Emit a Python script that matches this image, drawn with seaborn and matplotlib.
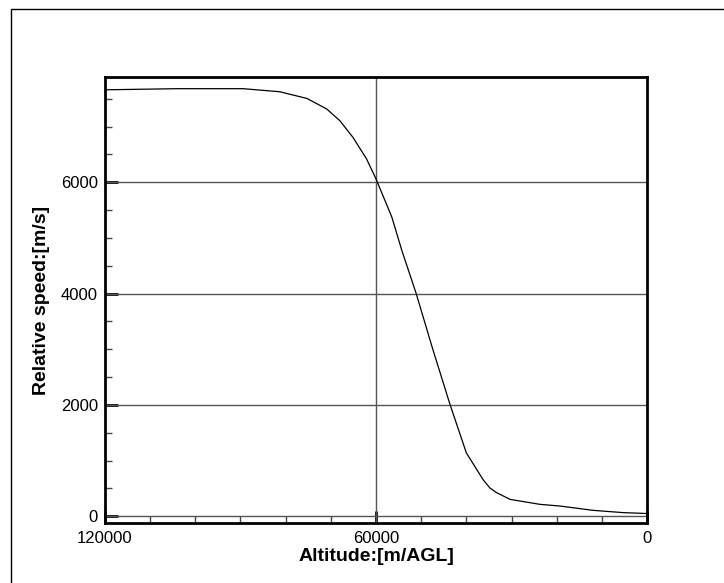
import numpy as np
import pandas as pd
import matplotlib
matplotlib.use("Agg")
import matplotlib.pyplot as plt
from matplotlib.patches import Rectangle
from matplotlib.ticker import MultipleLocator
import seaborn as sns

# Values
altitude = [120000, 104000, 89400, 81300, 75300, 70900, 68000, 65100, 62100,
            60000, 56500, 54300, 51100, 47500, 43600, 40000, 36300, 34800,
            33300, 30300, 23700, 19300, 11900, 5200, 0]
speed = [7660, 7680, 7680, 7625, 7505, 7315, 7105, 6805, 6420,
         6060, 5375, 4780, 4000, 3020, 2005, 1140, 660, 510,
         425, 304, 215, 185, 107, 66, 50]
x_major = [120000, 60000, 0]
y_major = [0, 2000, 4000, 6000]

df = pd.DataFrame({'altitude': altitude, 'speed': speed})

sns.set_style('ticks')
plt.rcParams['font.family'] = ['Liberation Sans', 'DejaVu Sans']
plt.rcParams['text.color'] = 'black'
plt.rcParams['axes.labelcolor'] = 'black'
plt.rcParams['xtick.color'] = 'black'
plt.rcParams['ytick.color'] = 'black'

fig = plt.figure(figsize=(7.24, 5.83), dpi=100)
ax = fig.add_axes([105 / 724, 1 - 523 / 583, 542 / 724, 446 / 583])

# grid at major ticks
for yv in y_major:
    ax.axhline(yv, color='#555555', lw=1.0, zorder=1)
ax.axvline(60000, color='#555555', lw=1.0, zorder=1)

sns.lineplot(data=df, x='altitude', y='speed', color='black', lw=0.9, ax=ax, zorder=3)

ax.set_xlim(120000, 0)
ax.set_ylim(-120, 7890)
ax.set_xticks(x_major)
ax.set_xticklabels([str(v) for v in x_major])
ax.set_yticks(y_major)
ax.set_yticklabels([str(v) for v in y_major])
ax.xaxis.set_minor_locator(MultipleLocator(10000))
ax.yaxis.set_minor_locator(MultipleLocator(500))

ax.tick_params(which='major', direction='in', length=9, width=2, color='black',
               labelcolor='black', labelsize=12, pad=5)
ax.tick_params(which='minor', direction='in', length=5, width=1, color='#444444')
ax.tick_params(axis='x', which='major', pad=6)

for s in ax.spines.values():
    s.set_linewidth(2)
    s.set_color('black')
    s.set_visible(True)

ax.set_xlabel('Altitude:[m/AGL]', fontsize=14, fontweight='bold', labelpad=1, color='black')
ax.set_ylabel('Relative speed:[m/s]', fontsize=14, fontweight='bold', labelpad=8, color='black')

# frame around the figure (only left and top edges visible in the reference)
fig.patches.append(Rectangle((10.5 / 724, -0.1), 1.2, 1 - 8.5 / 583 + 0.1,
                             transform=fig.transFigure, fill=False,
                             edgecolor='black', lw=1, clip_on=False))

fig.savefig('out.png', dpi=100)
